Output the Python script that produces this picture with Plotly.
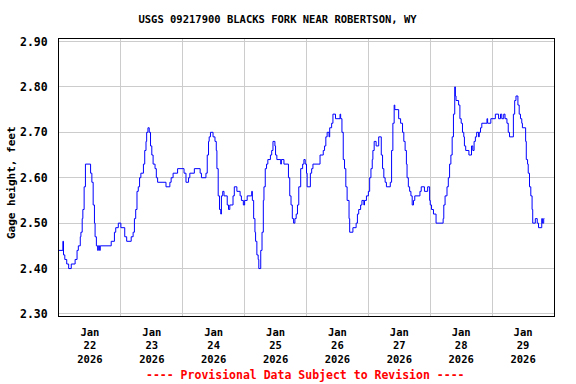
import pandas as pd
import plotly.graph_objects as go

# ---- data (hours after 2026-01-22 00:00, gage height in feet) ----
hours = [0, 1.5, 1.75, 2.25, 3.0, 3.75, 4.75, 6.25, 7.0, 7.5, 8.25, 8.5, 9.0, 9.25, 9.75, 10.25,
         12.25, 12.75, 13.25, 13.75, 14.0, 14.5, 15.0, 15.25, 15.75, 16.0, 20.25, 21.5, 22.0, 23.0,
         24.0, 25.5, 26.25, 28.0, 28.75, 29.25, 29.75, 30.25, 30.75, 31.25, 31.75, 32.75, 33.25,
         33.75, 34.0, 34.5, 35.0, 35.5, 36.0, 36.5, 37.25, 37.75, 38.25, 41.5, 43.0, 43.5, 44.25,
         46.0, 48.5, 49.25, 50.25, 50.75, 52.5, 54.75, 55.25, 57.0, 57.5, 58.0, 58.25, 58.75, 59.75,
         60.5, 61.0, 61.25, 61.75, 62.25, 62.75, 63.0, 63.5, 64.0, 65.25, 65.75, 66.25, 67.5, 68.0,
         69.0, 70.25, 70.75, 71.5, 72.0, 73.0, 74.75, 75.0, 75.5, 76.0, 76.25, 76.75, 77.25, 77.5,
         78.25, 78.75, 79.25, 79.5, 80.0, 80.5, 81.0, 82.0, 82.5, 83.0, 83.75, 84.0, 84.5, 86.0,
         86.25, 87.25, 89.0, 89.5, 90.0, 90.5, 91.0, 91.5, 92.0, 92.5, 93.0, 93.75, 94.5, 95.0,
         95.5, 96.0, 96.25, 97.5, 98.0, 98.5, 101.25, 102.5, 103.0, 103.5, 104.0, 104.75, 105.0,
         105.75, 106.25, 107.25, 109.0, 109.25, 109.75, 110.25, 110.75, 111.25, 111.75, 112.5,
         112.75, 114.0, 115.25, 115.75, 116.25, 117.0, 117.5, 118.25, 118.5, 119.25, 120.0, 120.5,
         121.0, 121.5, 121.75, 122.25, 123.0, 124.0, 125.0, 125.5, 126.0, 126.5, 127.0, 128.5,
         129.0, 129.5, 130.0, 130.25, 131.75, 132.5, 133.25, 133.75, 134.25, 134.75, 135.0, 135.5,
         136.0, 136.5, 137.0, 137.5, 138.0, 140.0, 140.5, 141.75, 143.0, 143.75, 144.0, 144.5,
         145.25, 146.25, 149.0, 149.25, 149.75, 150.5, 151.0, 151.5, 152.0, 152.5, 153.0, 153.5,
         153.75, 154.0, 155.0, 155.5, 156.0, 156.5, 157.0, 157.25, 157.75, 159.0, 160.0, 160.5,
         161.0, 161.5, 162.0, 162.75, 163.0, 163.5, 164.0, 166.0, 166.25, 167.5, 169.25, 170.5,
         171.25, 171.75, 172.5, 173.0, 173.75, 174.25, 174.75, 176.25, 176.75, 177.25, 178.0,
         178.5, 179.0, 179.5, 179.75, 181.0, 181.25, 181.75, 182.0, 182.5, 183.0, 183.5, 183.75,
         184.75, 185.5, 186.0, 187.25, 187.5, 188.0, 188.25]
gage = [2.44, 2.46, 2.43, 2.42, 2.41, 2.40, 2.41, 2.42, 2.44, 2.45, 2.47, 2.48, 2.51, 2.53, 2.58, 2.63,
        2.61, 2.59, 2.54, 2.50, 2.47, 2.45, 2.44, 2.45, 2.44, 2.45, 2.46, 2.48, 2.49, 2.50,
        2.49, 2.47, 2.46, 2.47, 2.48, 2.51, 2.53, 2.57, 2.58, 2.60, 2.61, 2.63, 2.66,
        2.68, 2.70, 2.71, 2.70, 2.67, 2.65, 2.63, 2.62, 2.60, 2.59, 2.58, 2.59, 2.60, 2.61,
        2.62, 2.61, 2.59, 2.60, 2.61, 2.62, 2.61, 2.60, 2.61, 2.65, 2.68, 2.69, 2.70, 2.69,
        2.68, 2.66, 2.62, 2.56, 2.53, 2.52, 2.56, 2.57, 2.56, 2.54, 2.53, 2.54, 2.56, 2.58,
        2.57, 2.56, 2.55, 2.54, 2.55, 2.56, 2.57, 2.55, 2.51, 2.48, 2.46, 2.43, 2.42, 2.40,
        2.44, 2.48, 2.55, 2.58, 2.62, 2.63, 2.64, 2.65, 2.66, 2.68, 2.67, 2.65, 2.64, 2.63,
        2.64, 2.63, 2.60, 2.56, 2.54, 2.51, 2.50, 2.51, 2.52, 2.54, 2.58, 2.62, 2.63, 2.64,
        2.63, 2.61, 2.58, 2.61, 2.62, 2.63, 2.65, 2.66, 2.67, 2.69, 2.70, 2.69, 2.71,
        2.72, 2.74, 2.73, 2.74, 2.73, 2.70, 2.64, 2.62, 2.58, 2.55, 2.51,
        2.48, 2.49, 2.50, 2.52, 2.53, 2.54, 2.55, 2.54, 2.55, 2.56, 2.57, 2.60,
        2.62, 2.64, 2.66, 2.68, 2.67, 2.69, 2.65, 2.62, 2.60, 2.59, 2.58, 2.59,
        2.66, 2.72, 2.76, 2.75, 2.73, 2.72, 2.70, 2.68, 2.66, 2.63, 2.60, 2.58,
        2.57, 2.56, 2.54, 2.55, 2.56, 2.57, 2.58, 2.57, 2.58, 2.55, 2.54, 2.53,
        2.52, 2.50, 2.51, 2.54, 2.56, 2.58, 2.60, 2.63, 2.65, 2.69, 2.74, 2.80,
        2.78, 2.77, 2.76, 2.73, 2.72, 2.70, 2.69, 2.67, 2.66, 2.65, 2.67, 2.66,
        2.68, 2.69, 2.70, 2.69, 2.70, 2.71, 2.72, 2.73, 2.72, 2.73, 2.74, 2.73,
        2.74, 2.73, 2.74, 2.73, 2.72, 2.70, 2.69, 2.74, 2.77, 2.78, 2.76,
        2.74, 2.73, 2.72, 2.71, 2.68, 2.64, 2.63, 2.61, 2.58, 2.56, 2.53, 2.50,
        2.51, 2.50, 2.49, 2.51, 2.50, 2.51, 2.51]

day_labels = ["Jan<br>22<br>2026", "Jan<br>23<br>2026", "Jan<br>24<br>2026", "Jan<br>25<br>2026",
              "Jan<br>26<br>2026", "Jan<br>27<br>2026", "Jan<br>28<br>2026", "Jan<br>29<br>2026"]
y_ticks = [2.30, 2.40, 2.50, 2.60, 2.70, 2.80, 2.90]

title_text = "USGS 09217900 BLACKS FORK NEAR ROBERTSON, WY"
y_title = "Gage height, feet"
footer = "---- Provisional Data Subject to Revision ----"

start = pd.Timestamp("2026-01-22 00:00")
times = start + pd.to_timedelta(hours, unit="h")
noons = [start + pd.Timedelta(hours=12 + 24 * i) for i in range(len(day_labels))]
midnights = [start + pd.Timedelta(days=i) for i in range(1, 8)]

FONT = "DejaVu Sans Mono"

fig = go.Figure()
fig.add_trace(go.Scatter(x=times, y=gage, mode="lines", line=dict(color="#0000ff", width=1, shape="hv"),
                         hoverinfo="skip", showlegend=False))

fig.update_layout(
    width=576, height=384,
    margin=dict(l=59, r=22, t=39, b=68),
    paper_bgcolor="white", plot_bgcolor="white",
    font=dict(family=FONT, size=11, color="black"),
    title=dict(text=title_text, x=277.5 / 576, xanchor="center", y=1 - 19 / 384,
               yanchor="middle", font=dict(family=FONT, size=10.5, weight="bold", color="black")),
)

fig.update_xaxes(
    range=[start, start + pd.Timedelta(days=8)],
    tickmode="array", tickvals=noons, ticktext=day_labels,
    showgrid=False, ticks="", ticklabelstandoff=6,
    tickfont=dict(family=FONT, size=10.5, weight="bold"),
    minor=dict(tickmode="array", tickvals=midnights, showgrid=True, gridcolor="#cccccc", gridwidth=1, ticks=""),
    showline=True, linecolor="black", linewidth=1, mirror=True, zeroline=False,
)
fig.update_yaxes(
    range=[2.2955, 2.9055],
    tickmode="array", tickvals=y_ticks, tickformat=".2f",
    showgrid=True, gridcolor="#cccccc", gridwidth=1, ticks="", ticklabelstandoff=8,
    tickfont=dict(family=FONT, size=11.5, weight="bold"),
    showline=True, linecolor="black", linewidth=1, mirror=True, zeroline=False,
)

fig.add_annotation(text=y_title, textangle=-90, xref="paper", yref="paper",
                   x=-48 / 495, xanchor="center", y=(316 - 183) / 277, yanchor="middle",
                   showarrow=False, font=dict(family=FONT, size=11, weight="bold", color="black"))
fig.add_annotation(text=footer, xref="paper", yref="paper",
                   x=(305 - 59) / 495, xanchor="center", y=-(375 - 316) / 277, yanchor="middle",
                   showarrow=False, font=dict(family=FONT, size=11.5, weight="bold", color="#ff0000"))

fig.write_html("out.html")
